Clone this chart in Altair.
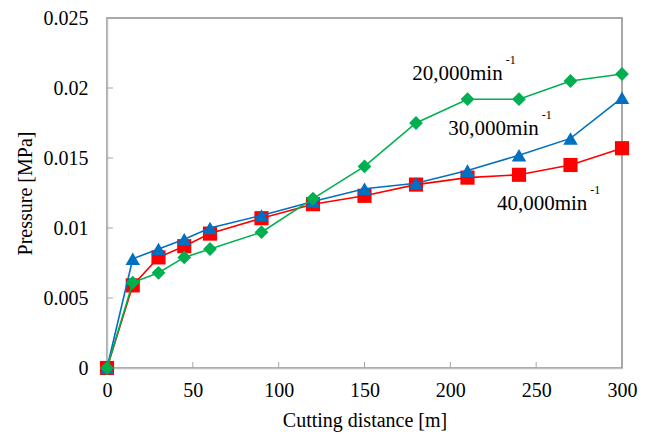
import altair as alt
import pandas as pd

# ---- data ----
distance = [0, 15, 30, 45, 60, 90, 120, 150, 180, 210, 240, 270, 300]
p40000 = [0, 0.0059, 0.0079, 0.0087, 0.0096, 0.0107, 0.0117, 0.0123, 0.0131, 0.0136, 0.0138, 0.0145, 0.0157]
p30000 = [0, 0.0078, 0.0085, 0.0092, 0.0100, 0.0109, 0.0119, 0.0128, 0.0132, 0.0141, 0.0152, 0.0164, 0.0193]
p20000 = [0, 0.0061, 0.0068, 0.0079, 0.0085, 0.0097, 0.0121, 0.0144, 0.0175, 0.0192, 0.0192, 0.0205, 0.0210]

x_ticks = [0, 50, 100, 150, 200, 250, 300]
y_ticks = [0, 0.005, 0.01, 0.015, 0.02, 0.025]

label_text = ["20,000min", "30,000min", "40,000min"]
label_x = [230.5, 251.5, 279.8]
label_y = [0.02057, 0.01664, 0.01129]

FONT = "Liberation Serif"

xscale = alt.Scale(domain=[0, 300], nice=False)
yscale = alt.Scale(domain=[0, 0.025], nice=False)

xaxis = alt.Axis(values=x_ticks, title="Cutting distance [m]", tickSize=0,
                 labelPadding=12, titlePadding=10, grid=False, labelFlush=False)
yaxis = alt.Axis(values=y_ticks, format=".3~f", title="Pressure [MPa]", tickSize=0,
                 labelPadding=19, titlePadding=8, grid=False, labelFlush=False)

def X(field):
    return alt.X(field, scale=xscale, axis=xaxis)

def Y(field):
    return alt.Y(field, scale=yscale, axis=yaxis)

series = [
    (p40000, "#FF0000", "square", 200),
    (p30000, "#0070C0", "triangle-up", 210),
    (p20000, "#00B050", "diamond", 190),
]

# inner tick marks
xt = pd.DataFrame({"t": x_ticks[1:-1]})
yt = pd.DataFrame({"t": y_ticks[1:-1]})
xtick_layer = alt.Chart(xt).mark_rule(color="#a6a6a6", strokeWidth=1).encode(
    x=X("t:Q"), y=alt.value(350), y2=alt.value(344))
ytick_layer = alt.Chart(yt).mark_rule(color="#a6a6a6", strokeWidth=1).encode(
    y=Y("t:Q"), x=alt.value(0), x2=alt.value(6))

layers = []
for vals, color, shape, size in series:
    df = pd.DataFrame({"d": distance, "p": vals})
    base = alt.Chart(df)
    layers.append(base.mark_line(color=color, strokeWidth=1.6).encode(x=X("d:Q"), y=Y("p:Q")))
    layers.append(base.mark_point(shape=shape, filled=True, opacity=1, color=color,
                                  size=size, strokeWidth=0).encode(x=X("d:Q"), y=Y("p:Q")))

lab = pd.DataFrame({"t": label_text, "x": label_x, "y": label_y})
lab_main = alt.Chart(lab).mark_text(font=FONT, fontSize=21, align="right",
                                    baseline="alphabetic", color="#000000").encode(
    x=X("x:Q"), y=Y("y:Q"), text="t:N")
lab_sup = alt.Chart(lab).mark_text(font=FONT, fontSize=12, align="left",
                                   baseline="alphabetic", dx=3, dy=-16,
                                   color="#000000").encode(
    x=X("x:Q"), y=Y("y:Q"), text=alt.value("-1"))

chart = alt.layer(*layers[:1], xtick_layer, ytick_layer, *layers[1:], lab_main, lab_sup).properties(
    width=515, height=350,
    autosize=alt.AutoSizeParams(type="none"),
    padding={"left": 99, "top": 10, "right": 19, "bottom": 68},
    background="white",
).configure(font=FONT).configure_view(stroke="#8c8c8c", strokeWidth=1.5).configure_axis(
    labelFont=FONT, titleFont=FONT, labelFontSize=20, titleFontSize=20,
    labelColor="#000000", titleColor="#000000", titleFontWeight="normal",
    domainColor="#c0c0c0", domainWidth=1.5,
)

chart.save("out.html", embed_options={"renderer": "svg", "actions": False})
